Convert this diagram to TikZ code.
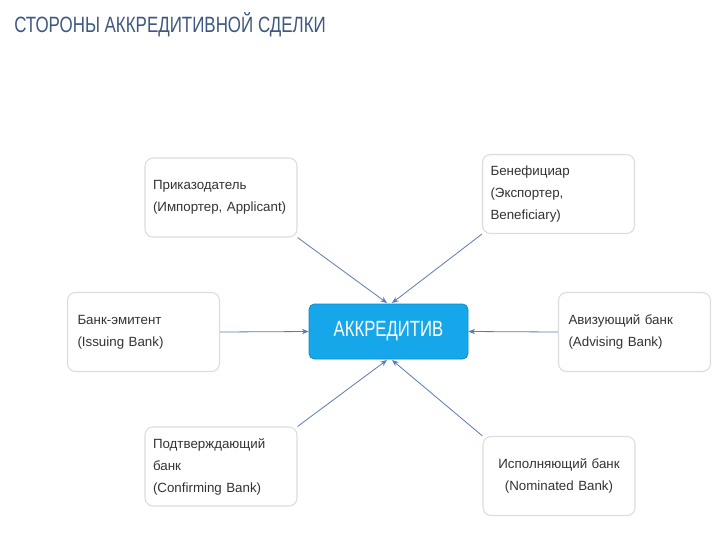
\documentclass[tikz,border=0pt]{standalone}
\usepackage{fontspec}
\setmainfont{Liberation Sans}
\newfontfamily\narrowfont[FakeStretch=0.76]{Liberation Sans}
\newfontfamily\titlefont[FakeStretch=0.765]{Liberation Sans}
\usetikzlibrary{arrows.meta}
\definecolor{titlecol}{RGB}{62,88,128}
\definecolor{ctrfill}{RGB}{22,166,234}
\definecolor{ctrdraw}{RGB}{14,140,205}
\definecolor{boxdraw}{RGB}{218,220,224}
\definecolor{txtcol}{RGB}{51,51,51}
\definecolor{arrcol}{RGB}{92,122,178}
\tikzset{
  partybox/.style={draw=boxdraw, line width=0.8pt, fill=white, rounded corners=6pt,
    minimum width=114pt, minimum height=59.25pt, text width=102pt, inner xsep=6pt,
    align=left, font=\fontsize{10}{16.5}\selectfont, text=txtcol},
  ctrbox/.style={draw=ctrdraw, line width=0.6pt, fill=ctrfill, rounded corners=4pt,
    minimum width=119.25pt, minimum height=41.25pt, text=white,
    font=\narrowfont\fontsize{16.5}{18}\selectfont},
  conn/.style={draw=arrcol, line width=0.6pt, -{Stealth[length=5pt,width=4pt]}}
}
\begin{document}
\begin{tikzpicture}[x=0.75pt,y=-0.75pt]
\useasboundingbox (0,0) rectangle (720,540);
\node[anchor=west, inner sep=0pt, text=titlecol, font=\titlefont\fontsize{16.6}{18}\selectfont] (title) at (14,25) {СТОРОНЫ АККРЕДИТИВНОЙ СДЕЛКИ};
\node[ctrbox] (ctr) at (388.5,331.5) {АККРЕДИТИВ};
\node[partybox] (app) at (221,197.5) {Приказодатель\\(Импортер, Applicant)};
\node[partybox] (ben) at (558.5,194) {Бенефициар\\(Экспортер,\\Beneficiary)};
\node[partybox, inner xsep=7.5pt, text width=99pt] (emi) at (143.5,332) {Банк-эмитент\\(Issuing Bank)};
\node[partybox, inner xsep=7.5pt, text width=99pt] (adv) at (634.5,332) {Авизующий банк\\(Advising Bank)};
\node[partybox] (conf) at (221,466.5) {Подтверждающий\\банк\\(Confirming Bank)};
\node[partybox, align=center] (nom) at (559,476) {Исполняющий банк\\(Nominated Bank)};
\coordinate (ctrNW) at (387,303);
\coordinate (ctrNE) at (392,303);
\coordinate (ctrSW) at (387,360);
\coordinate (ctrSE) at (392,360);
\draw[conn] (app.south east) -- (ctrNW);
\draw[conn] (ben.south west) -- (ctrNE);
\draw[conn] (emi.east) -- (ctr.west);
\draw[conn] (adv.west) -- (ctr.east);
\draw[conn] (conf.north east) -- (ctrSW);
\draw[conn] (nom.north west) -- (ctrSE);
\end{tikzpicture}
\end{document}
